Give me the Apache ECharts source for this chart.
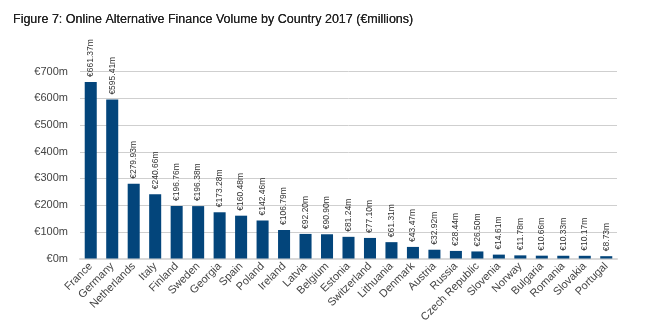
<!DOCTYPE html>
<html><head><meta charset="utf-8">
<script src="https://cdn.jsdelivr.net/npm/echarts@6/dist/echarts.min.js"></script>
<style>html,body{margin:0;padding:0;background:#fff}#c{width:667px;height:325px}</style>
</head><body><div id="c"></div>
<script>
const countries = ["France","Germany","Netherlands","Italy","Finland","Sweden","Georgia","Spain","Poland","Ireland","Latvia","Belgium","Estonia","Switzerland","Lithuania","Denmark","Austria","Russia","Czech Republic","Slovenia","Norway","Bulgaria","Romania","Slovakia","Portugal"];
const volumes = [661.37,595.41,279.93,240.66,196.76,196.38,173.28,160.48,142.46,106.79,92.20,90.90,81.24,77.10,61.31,43.47,32.92,28.44,26.50,14.61,11.78,10.66,10.33,10.17,8.73];
const yTicks = [0,100,200,300,400,500,600,700];

const chart = echarts.init(document.getElementById('c'), null, {renderer:'canvas'});
chart.setOption({
  animation:false,
  title:{text:'Figure 7: Online Alternative Finance Volume by Country 2017 (€millions)',left:8,top:8,
    textStyle:{fontFamily:'Liberation Sans',fontSize:12.5,fontWeight:'normal',color:'#222',textShadowColor:'#222',textShadowBlur:0.4}},
  grid:{left:80,right:50,top:71.7,bottom:65},
  xAxis:{type:'category',data:countries,
    axisLine:{lineStyle:{color:'#d9d9d9',width:2}},axisTick:{show:false},
    axisLabel:{rotate:45,interval:0,fontFamily:'Liberation Sans',fontSize:11,color:'#444',margin:6}},
  yAxis:{type:'value',min:yTicks[0],max:yTicks[yTicks.length-1],interval:100,
    axisLine:{show:false},axisTick:{show:false},
    splitLine:{lineStyle:{color:'#cfcfcf',width:1}},
    axisLabel:{formatter:v=>'€'+v+'m',fontFamily:'Liberation Sans',fontSize:11,color:'#444',margin:12}},
  series:[{type:'bar',data:volumes,barWidth:'56%',
    itemStyle:{color:'#03457b'},
    label:{show:true,position:'top',rotate:90,align:'left',verticalAlign:'middle',distance:5,
      formatter:p=>'€'+p.value.toFixed(2)+'m',fontFamily:'Liberation Sans',fontSize:8.5,color:'#333'}}]
});
</script></body></html>
